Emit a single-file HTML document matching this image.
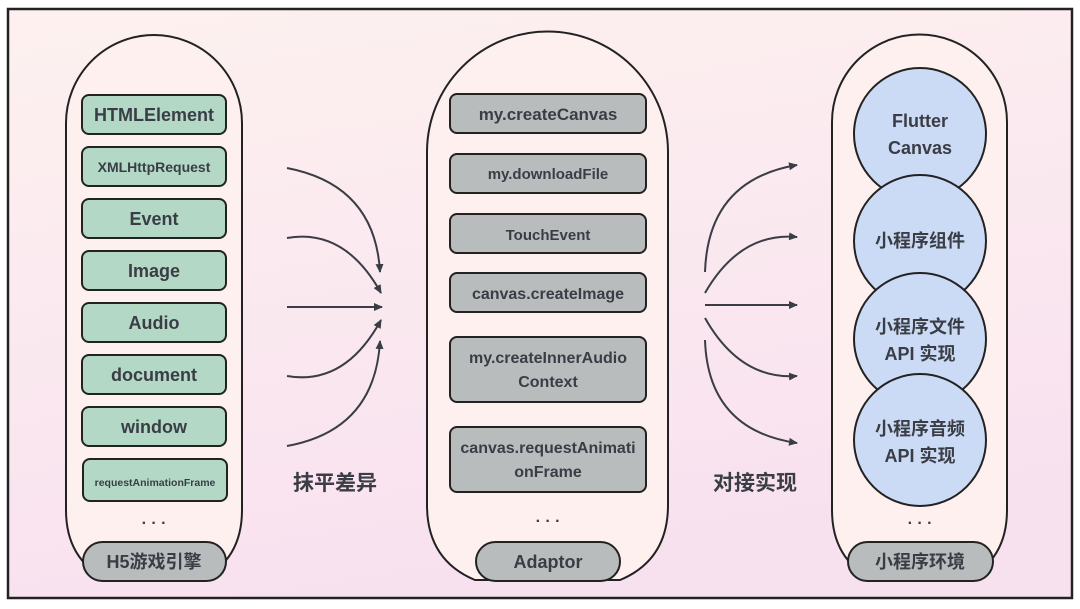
<!DOCTYPE html>
<html><head><meta charset="utf-8"><style>
html,body{margin:0;padding:0;background:#fff;}
svg{display:block;}
text{font-family:"Liberation Sans","Noto Sans CJK SC",sans-serif;font-weight:bold;fill:#3a3d45;text-anchor:middle;}
</style></head><body>
<svg width="1080" height="609" viewBox="0 0 1080 609" xmlns="http://www.w3.org/2000/svg">
<defs>
<linearGradient id="bg" x1="0" y1="0" x2="0.3" y2="1">
<stop offset="0" stop-color="#fdf1ef"/><stop offset="1" stop-color="#f8e1ef"/></linearGradient>
<marker id="ah" markerWidth="10" markerHeight="10" refX="8" refY="5" orient="auto" markerUnits="userSpaceOnUse">
<path d="M0,1 L9,5 L0,9 Z" fill="#3a3d45"/></marker>
</defs>
<rect x="8" y="9" width="1064" height="589" fill="url(#bg)" stroke="#222" stroke-width="2.5"/>

<!-- pills -->
<path d="M66,123 A88,88 0 0 1 242,123 L242,510 Q242,560 200,580 L108,580 Q66,560 66,510 Z" fill="#fef0ee" stroke="#222" stroke-width="2"/>
<path d="M427,152 A120.5,120.5 0 0 1 668,152 L668,505 Q668,560 620,580 L475,580 Q427,560 427,505 Z" fill="#fef0ee" stroke="#222" stroke-width="2"/>
<path d="M832,122 A87.5,87.5 0 0 1 1007,122 L1007,510 Q1007,560 965,580 L874,580 Q832,560 832,510 Z" fill="#fef0ee" stroke="#222" stroke-width="2"/>

<!-- green boxes -->
<g fill="#b3d9c6" stroke="#222" stroke-width="2">
<rect x="82" y="95" width="144" height="39" rx="7"/>
<rect x="82" y="147" width="144" height="39" rx="7"/>
<rect x="82" y="199" width="144" height="39" rx="7"/>
<rect x="82" y="251" width="144" height="39" rx="7"/>
<rect x="82" y="303" width="144" height="39" rx="7"/>
<rect x="82" y="355" width="144" height="39" rx="7"/>
<rect x="82" y="407" width="144" height="39" rx="7"/>
<rect x="83" y="459" width="144" height="42" rx="7"/>
</g>
<text x="154" y="121" font-size="18">HTMLElement</text>
<text x="154" y="172" font-size="14">XMLHttpRequest</text>
<text x="154" y="225" font-size="18">Event</text>
<text x="154" y="277" font-size="18">Image</text>
<text x="154" y="329" font-size="18">Audio</text>
<text x="154" y="381" font-size="18">document</text>
<text x="154" y="433" font-size="18">window</text>
<text x="155" y="486" font-size="10.5">requestAnimationFrame</text>
<text x="154" y="528" font-size="16">· · ·</text>

<!-- gray boxes -->
<g fill="#b9bcbd" stroke="#222" stroke-width="2">
<rect x="450" y="94" width="196" height="39" rx="7"/>
<rect x="450" y="154" width="196" height="39" rx="7"/>
<rect x="450" y="214" width="196" height="39" rx="7"/>
<rect x="450" y="273" width="196" height="39" rx="7"/>
<rect x="450" y="337" width="196" height="65" rx="7"/>
<rect x="450" y="427" width="196" height="65" rx="7"/>
</g>
<text x="548" y="120" font-size="17">my.createCanvas</text>
<text x="548" y="179" font-size="15">my.downloadFile</text>
<text x="548" y="240" font-size="15">TouchEvent</text>
<text x="548" y="299" font-size="16">canvas.createImage</text>
<text x="548" y="363" font-size="16">my.createInnerAudio</text>
<text x="548" y="387" font-size="16">Context</text>
<text x="548" y="453" font-size="16">canvas.requestAnimati</text>
<text x="548" y="477" font-size="16">onFrame</text>
<text x="548" y="526" font-size="16">· · ·</text>

<!-- circles -->
<g fill="#ccdbf5" stroke="#222" stroke-width="2">
<circle cx="920" cy="134" r="66"/>
<circle cx="920" cy="241" r="66"/>
<circle cx="920" cy="339" r="66"/>
<circle cx="920" cy="440" r="66"/>
</g>
<text x="920" y="127" font-size="18">Flutter</text>
<text x="920" y="154" font-size="18">Canvas</text>
<text x="920" y="247" font-size="18">小程序组件</text>
<text x="920" y="333" font-size="18">小程序文件</text>
<text x="920" y="360" font-size="18">API 实现</text>
<text x="920" y="435" font-size="18">小程序音频</text>
<text x="920" y="462" font-size="18">API 实现</text>
<text x="920" y="528" font-size="16">· · ·</text>

<!-- bottom labels -->
<g fill="#b9bcbd" stroke="#222" stroke-width="2">
<rect x="83" y="542" width="143" height="39" rx="19.5"/>
<rect x="476" y="542" width="144" height="39" rx="19.5"/>
<rect x="848" y="542" width="145" height="39" rx="19.5"/>
</g>
<text x="154" y="568" font-size="18">H5游戏引擎</text>
<text x="548" y="568" font-size="18">Adaptor</text>
<text x="920" y="568" font-size="18">小程序环境</text>

<!-- arrows left -->
<g fill="none" stroke="#3a3d45" stroke-width="2" marker-end="url(#ah)">
<path d="M287,168 Q375,185 380,272"/>
<path d="M287,238 Q345,228 381,293"/>
<path d="M287,307 L382,307"/>
<path d="M287,376 Q345,386 381,320"/>
<path d="M287,446 Q375,430 380,341"/>
<path d="M705,272 Q708,180 797,165"/>
<path d="M705,293 Q740,232 797,237"/>
<path d="M705,305 L797,305"/>
<path d="M705,318 Q740,380 797,376"/>
<path d="M705,340 Q708,430 797,443"/>
</g>
<text x="335" y="490" font-size="21">抹平差异</text>
<text x="755" y="490" font-size="21">对接实现</text>
</svg>
</body></html>
